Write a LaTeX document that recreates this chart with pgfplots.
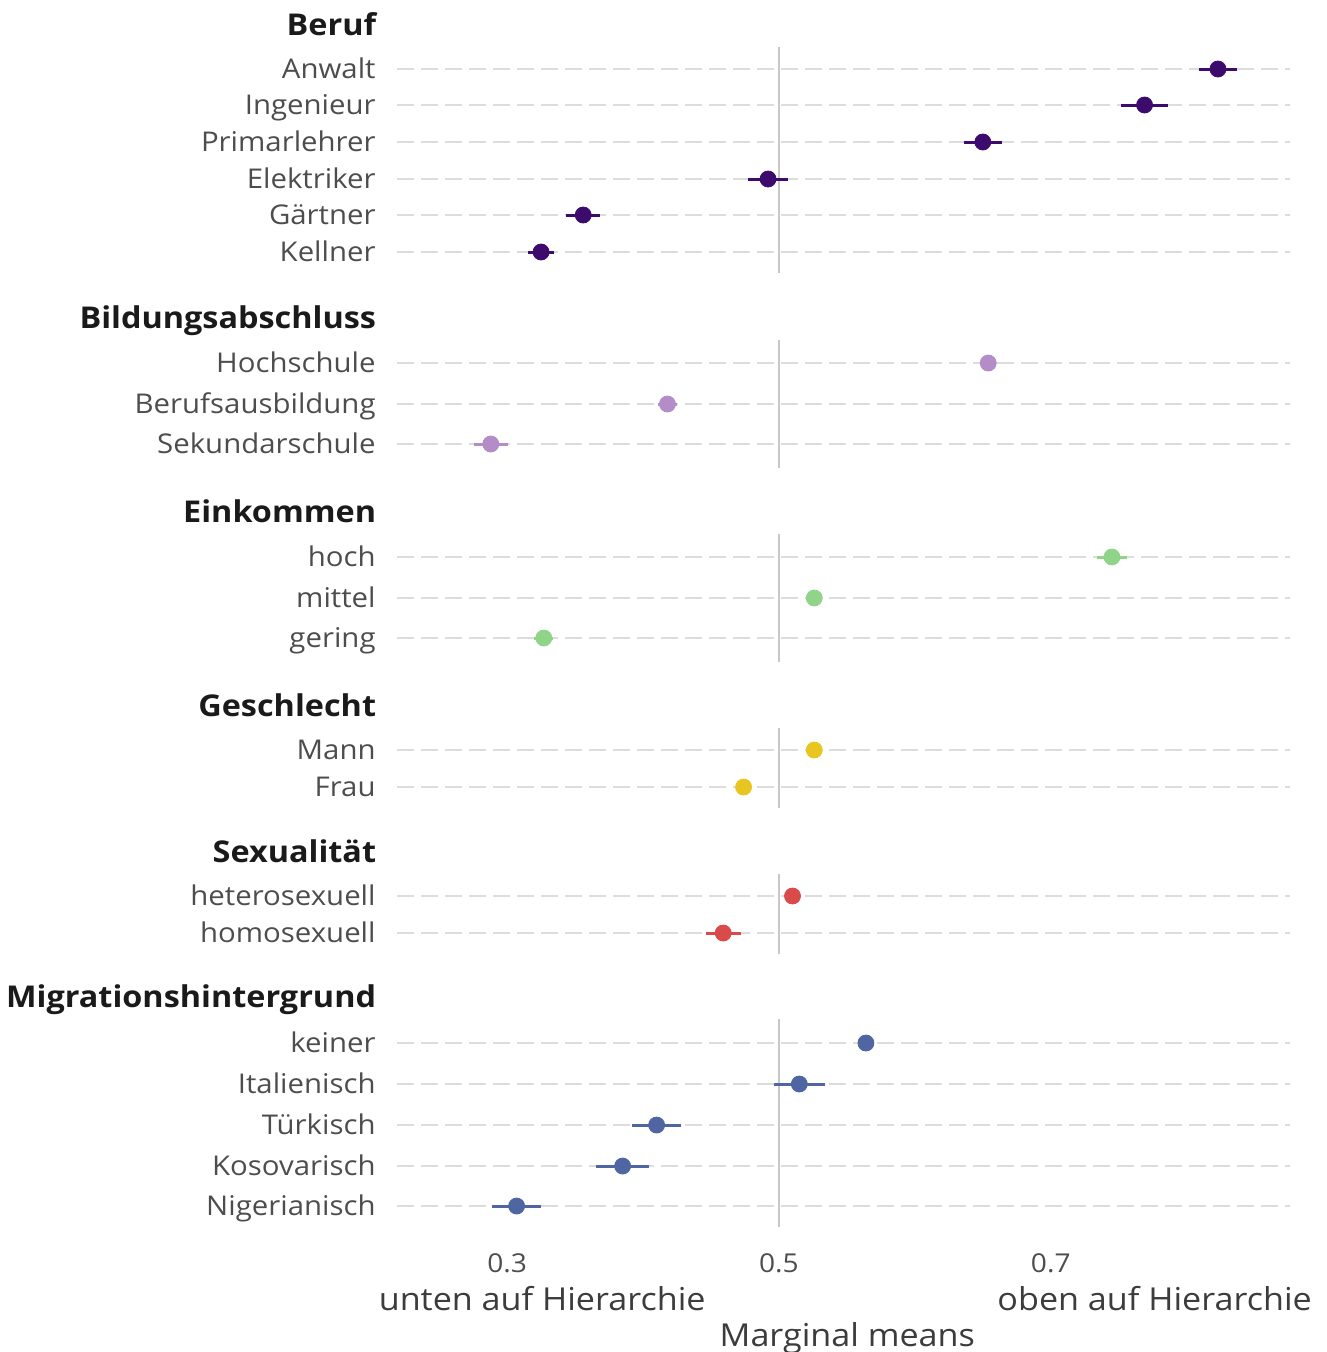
\documentclass[border=0pt]{standalone}
\usepackage{pgfplots}
\pgfplotsset{compat=1.18}
\usepackage{fontspec}
\setmainfont{Open Sans}[FakeStretch=1.08]
\definecolor{cBeruf}{HTML}{3D0B6E}
\definecolor{cBildung}{HTML}{B48CC8}
\definecolor{cEink}{HTML}{90D48A}
\definecolor{cGeschl}{HTML}{E8C520}
\definecolor{cSex}{HTML}{D94A4A}
\definecolor{cMig}{HTML}{4F66A3}
\definecolor{labgray}{HTML}{4D4D4D}
\definecolor{titlecol}{HTML}{1A1A1A}
\definecolor{gridcol}{HTML}{DCDCDC}
\definecolor{vcol}{HTML}{C8C8C8}
\newcommand{\labfont}{\fontsize{13.6}{15}\selectfont}
\newcommand{\titfont}{\bfseries\fontsize{15}{18}\selectfont}
\pgfplotsset{errstyle/.style={only marks, mark=*, mark size=4pt, color=#1,
  error bars/.cd, x dir=both, x explicit, error mark=none,
  error bar style={line width=1.5pt, color=#1}}}
\begin{document}
\begin{tikzpicture}
\useasboundingbox (-198.5pt,23.5pt) rectangle (464.5pt,-652.5pt);
\begin{axis}[
  at={(0pt,0pt)}, anchor=north west,
  scale only axis, width=446.5pt, height=590pt,
  xmin=0.219, xmax=0.876, ymin=47, ymax=1227, y dir=reverse,
  axis line style={draw=none}, major tick length=0pt,
  xtick={0.3,0.5,0.7}, xticklabels={0.3,0.5,0.7},
  xticklabel style={anchor=base, yshift=-22.5pt, inner sep=0pt, font=\fontsize{13}{15}\selectfont, text=labgray},
  ytick={69,105,142,179,215,252,363,404,444,557,598,638,750,787,896,933,1043,1084,1125,1166,1206},
  yticklabels={Anwalt,Ingenieur,Primarlehrer,Elektriker,Gärtner,Kellner,Hochschule,Berufsausbildung,Sekundarschule,hoch,mittel,gering,Mann,Frau,heterosexuell,homosexuell,keiner,Italienisch,Türkisch,Kosovarisch,Nigerianisch},
  yticklabel style={anchor=base east, xshift=-10.5pt, yshift=-4.75pt, inner sep=0pt, font=\labfont, text=labgray},
  ymajorgrids, major grid style={gridcol, line width=1.3pt, dash pattern=on 8.5pt off 3.5pt},
  clip=false,
]
% vertical reference lines at 0.5
\addplot[vcol, line width=1.3pt, no marks] coordinates {(0.5,47) (0.5,273)};
\addplot[vcol, line width=1.3pt, no marks] coordinates {(0.5,340) (0.5,468)};
\addplot[vcol, line width=1.3pt, no marks] coordinates {(0.5,534) (0.5,662)};
\addplot[vcol, line width=1.3pt, no marks] coordinates {(0.5,728) (0.5,808)};
\addplot[vcol, line width=1.3pt, no marks] coordinates {(0.5,874) (0.5,954)};
\addplot[vcol, line width=1.3pt, no marks] coordinates {(0.5,1019) (0.5,1227)};
% Beruf
\addplot[errstyle=cBeruf]
  coordinates {(0.823,69) +- (0.014,0) (0.769,105) +- (0.017,0) (0.650,142) +- (0.014,0)
               (0.492,179) +- (0.015,0) (0.356,215) +- (0.0125,0) (0.325,252) +- (0.0095,0)};
% Bildungsabschluss
\addplot[errstyle=cBildung]
  coordinates {(0.654,363) +- (0.006,0) (0.418,404) +- (0.007,0) (0.288,444) +- (0.0125,0)};
% Einkommen
\addplot[errstyle=cEink]
  coordinates {(0.745,557) +- (0.011,0) (0.526,598) +- (0.006,0) (0.327,638) +- (0.007,0)};
% Geschlecht
\addplot[errstyle=cGeschl]
  coordinates {(0.526,750) +- (0.005,0) (0.474,787) +- (0.005,0)};
% Sexualitaet
\addplot[errstyle=cSex]
  coordinates {(0.510,896) +- (0.005,0) (0.459,933) +- (0.013,0)};
% Migrationshintergrund
\addplot[errstyle=cMig]
  coordinates {(0.564,1043) +- (0.005,0) (0.515,1084) +- (0.019,0) (0.410,1125) +- (0.018,0)
               (0.385,1166) +- (0.0195,0) (0.307,1206) +- (0.018,0)};
% panel titles
\node[anchor=base east, inner sep=0pt, xshift=-10.25pt, font=\titfont, text=titlecol] at (axis cs:0.219,35) {Beruf};
\node[anchor=base east, inner sep=0pt, xshift=-10.25pt, font=\titfont, text=titlecol] at (axis cs:0.219,328) {Bildungsabschluss};
\node[anchor=base east, inner sep=0pt, xshift=-10.25pt, font=\titfont, text=titlecol] at (axis cs:0.219,522) {Einkommen};
\node[anchor=base east, inner sep=0pt, xshift=-10.25pt, font=\titfont, text=titlecol] at (axis cs:0.219,716) {Geschlecht};
\node[anchor=base east, inner sep=0pt, xshift=-10.25pt, font=\titfont, text=titlecol] at (axis cs:0.219,862) {Sexualität};
\node[anchor=base east, inner sep=0pt, xshift=-10.25pt, font=\titfont, text=titlecol] at (axis cs:0.219,1007) {Migrationshintergrund};
% bottom annotations
\node[anchor=base, inner sep=0pt, font=\fontsize{15.8}{17}\selectfont, text=titlecol!85] at (axis cs:0.3258,1310) {unten auf Hierarchie};
\node[anchor=base, inner sep=0pt, font=\fontsize{15.8}{17}\selectfont, text=titlecol!85] at (axis cs:0.7764,1310) {oben auf Hierarchie};
\node[anchor=base, inner sep=0pt, font=\fontsize{15.8}{17}\selectfont, text=titlecol!85] at (axis cs:0.5503,1346) {Marginal means};
\end{axis}
\end{tikzpicture}
\end{document}
